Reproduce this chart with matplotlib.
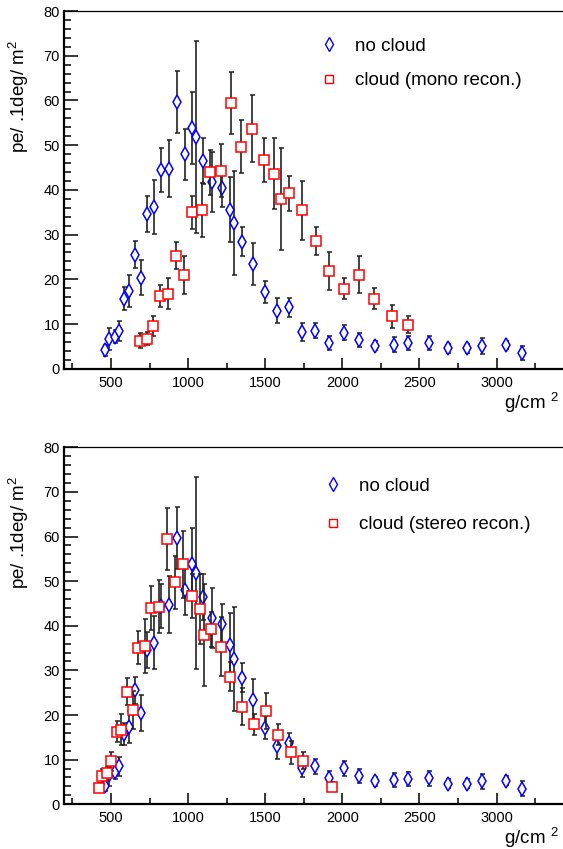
import matplotlib
matplotlib.use("Agg")
import matplotlib.pyplot as plt
from matplotlib.lines import Line2D
from matplotlib.ticker import MultipleLocator

plt.rcParams["font.family"] = ["Liberation Sans", "DejaVu Sans"]
plt.rcParams["mathtext.fontset"] = "custom"
plt.rcParams["mathtext.rm"] = "Liberation Sans"
plt.rcParams["mathtext.default"] = "regular"

# no cloud (same in both panels)
nocloud_x = [460, 488, 523, 551, 585, 615, 654, 695, 732, 776, 821, 873, 925, 979,
             1026, 1050, 1097, 1154, 1218, 1270, 1296, 1350, 1422, 1500, 1577, 1655,
             1740, 1824, 1915, 2008, 2111, 2211, 2336, 2423, 2565, 2686, 2807, 2905,
             3060, 3166]
nocloud_y = [4.1, 6.6, 7.2, 8.5, 15.7, 17.4, 25.5, 20.4, 34.6, 36.2, 44.4, 44.7, 59.7,
             48.0, 53.8, 51.8, 46.5, 41.8, 40.5, 35.6, 32.6, 28.4, 23.4, 17.2, 13.0,
             13.7, 8.2, 8.5, 5.8, 8.1, 6.4, 5.1, 5.4, 5.7, 5.8, 4.6, 4.6, 5.1, 5.3, 3.5]
nocloud_err = [1.2, 2.5, 1.5, 2.2, 2.5, 3.6, 3.0, 4.0, 4.0, 6.0, 4.9, 6.4, 6.9, 5.7,
               8.1, 21.5, 5.2, 6.7, 4.3, 7.3, 11.6, 3.2, 4.7, 2.5, 2.8, 2.2, 2.0, 1.7,
               1.6, 1.7, 1.6, 1.0, 1.6, 1.6, 1.6, 1.0, 1.0, 1.75, 1.0, 1.6]

# cloud, mono reconstruction (top panel)
mono_x = [691, 732, 773, 818, 868, 920, 970, 1028, 1089, 1141, 1210, 1275, 1346, 1415,
          1495, 1560, 1601, 1655, 1737, 1826, 1912, 2008, 2107, 2206, 2321, 2425]
mono_y = [6.3, 6.7, 9.5, 16.3, 16.8, 25.3, 21.0, 35.0, 35.5, 43.9, 44.3, 59.4, 49.7,
          53.7, 46.6, 43.6, 38.0, 39.2, 35.4, 28.6, 21.9, 17.9, 21.0, 15.7, 11.7, 9.8]
mono_err = [1.7, 1.5, 2.2, 2.4, 3.5, 3.0, 4.3, 3.7, 6.0, 5.0, 6.0, 6.9, 5.9, 7.5,
            4.9, 7.9, 11.4, 3.9, 6.6, 3.2, 4.2, 2.4, 4.1, 2.3, 2.5, 1.9]

# cloud, stereo reconstruction (bottom panel)
stereo_x = [421, 442, 477, 501, 536, 564, 602, 641, 678, 721, 760, 810, 860, 912, 966,
            1026, 1074, 1104, 1149, 1210, 1270, 1348, 1424, 1504, 1582, 1664, 1748, 1930]
stereo_y = [3.7, 6.3, 6.9, 9.6, 16.3, 16.7, 25.2, 21.1, 35.1, 35.5, 44.0, 44.3, 59.4,
            49.7, 53.8, 46.7, 43.7, 37.9, 39.2, 35.3, 28.6, 21.9, 17.9, 20.9, 15.6,
            11.6, 9.8, 3.9]
stereo_err = [1.0, 1.7, 1.5, 2.2, 2.4, 3.5, 3.0, 4.3, 3.7, 6.0, 5.0, 6.0, 6.9, 5.9,
              7.5, 4.9, 7.9, 11.4, 3.9, 6.6, 3.2, 4.2, 2.4, 4.1, 2.3, 2.5, 1.9, 1.0]

ERR_KW = dict(ls="none", ecolor="#222222", elinewidth=1.2, capsize=1.8, capthick=1.2,
              mfc="white", mew=1.1)


def draw_panel(ax, cx, cy, cerr, clabel, leg_anchor, leg_spacing):
    ax.errorbar(nocloud_x, nocloud_y, yerr=nocloud_err, fmt="d", mec="#0000ff",
                ms=6.8, zorder=3, **ERR_KW)
    ax.errorbar(cx, cy, yerr=cerr, fmt="s", mec="#ff0000", ms=6.5, zorder=4, **ERR_KW)

    ax.set_xlim(195, 3450)
    ax.set_ylim(0, 80)
    ax.xaxis.set_major_locator(MultipleLocator(500))
    ax.xaxis.set_minor_locator(MultipleLocator(250))
    ax.yaxis.set_major_locator(MultipleLocator(10))
    ax.yaxis.set_minor_locator(MultipleLocator(2))
    ax.tick_params(axis="both", which="both", direction="in", width=1.1, labelsize=10.5)
    ax.tick_params(axis="y", which="major", length=10, pad=3)
    ax.tick_params(axis="y", which="minor", length=5)
    ax.tick_params(axis="x", which="major", length=8, pad=5)
    ax.tick_params(axis="x", which="minor", length=4)
    ax.spines["left"].set_linewidth(1.6)
    ax.spines["bottom"].set_linewidth(1.6)
    ax.spines["top"].set_linewidth(0.9)
    ax.spines["right"].set_visible(False)

    ax.set_ylabel("pe/ .1deg/ m$^{2}$", fontsize=13.5, loc="top")
    ax.yaxis.set_label_coords(-0.065, 0.919)
    ax.set_xlabel("g/cm $^{2}$", fontsize=13.5, loc="right")
    ax.xaxis.label.set_va("center")
    ax.xaxis.set_label_coords(0.985, -0.095)

    handles = [
        Line2D([], [], marker="d", ls="none", mec="#0000ff", mfc="white", ms=6.8, mew=1.0),
        Line2D([], [], marker="s", ls="none", mec="#ff0000", mfc="white", ms=5.5, mew=1.0),
    ]
    ax.legend(handles, ["no cloud", clabel], loc="upper left", bbox_to_anchor=leg_anchor,
              frameon=False, fontsize=13.5, handlelength=1.0, handletextpad=0.88,
              labelspacing=leg_spacing, borderpad=0, borderaxespad=0)


fig = plt.figure(figsize=(5.63, 8.49), dpi=100)
ax1 = fig.add_axes([0.1137, 0.5657, 0.8915, 0.4213])
ax2 = fig.add_axes([0.1137, 0.0527, 0.8915, 0.4205])

draw_panel(ax1, mono_x, mono_y, mono_err, "cloud (mono recon.)", (0.509, 0.925), 0.92)
draw_panel(ax2, stereo_x, stereo_y, stereo_err, "cloud (stereo recon.)", (0.517, 0.915), 1.14)

fig.savefig("out.png", dpi=100)
